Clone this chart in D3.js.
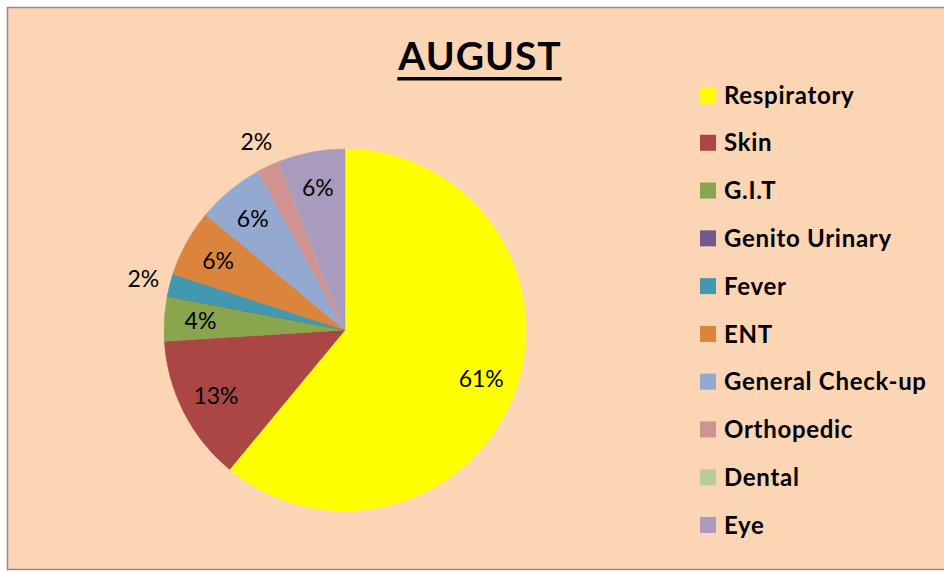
<!DOCTYPE html>
<html>
<head>
<meta charset="utf-8">
<script src="https://cdn.jsdelivr.net/npm/d3@7"></script>
<style>
  body { margin: 0; background: #ffffff; }
  svg { display: block; }
</style>
</head>
<body>
<script>
// Données du graphique
const categories = ['Respiratory', 'Skin', 'G.I.T', 'Genito Urinary', 'Fever', 'ENT', 'General Check-up', 'Orthopedic', 'Dental', 'Eye']
const values = [61, 13, 4, 0, 2, 6, 6, 2, 0, 6]
const colors = ['#ffff00', '#aa4643', '#89a54e', '#71588f', '#4198af', '#db843d', '#93a9cf', '#d19392', '#b9cd96', '#a99bbd']
const title = 'AUGUST'

const width = 944, height = 571

const svg = d3.select('body').append('svg')
    .attr('width', width)
    .attr('height', height)

// Fond + bordure
svg.append('rect')
    .attr('x', 7.5)
    .attr('y', 7.5)
    .attr('width', width + 10)
    .attr('height', 562)
    .attr('fill', '#fcd5b4')
    .attr('stroke', '#8c8c8c')
    .attr('stroke-width', 1.5)

// Titre souligné
const titleText = svg.append('text')
    .attr('x', 480)
    .attr('y', 70)
    .attr('text-anchor', 'middle')
    .style('font-family', 'Lato, sans-serif')
    .style('font-weight', 'bold')
    .style('font-size', '39px')
    .style('letter-spacing', '1px')
    .attr('fill', '#000')
    .text(title)

const tb = titleText.node().getBBox()
svg.append('rect')
    .attr('x', tb.x)
    .attr('y', 77)
    .attr('width', tb.width)
    .attr('height', 3.5)
    .attr('fill', '#000')

// Camembert
const cx = 345, cy = 330, radius = 181
const total = d3.sum(values)
const data = categories.map((c, i) => ({ name: c, value: values[i], color: colors[i] }))

const pie = d3.pie().value(d => d.value).sort(null)
const arc = d3.arc().innerRadius(0).outerRadius(radius)
const arcsIn = pie(data)

const g = svg.append('g').attr('transform', `translate(${cx},${cy})`)

g.selectAll('path')
    .data(arcsIn)
    .join('path')
    .attr('d', arc)
    .attr('fill', d => d.data.color)
    .attr('stroke', d => d.data.color)
    .attr('stroke-width', 0.5)

// Étiquettes (%), dedans pour les grandes parts, dehors pour les petites
const fmt = d3.format('.0%')
const labelArcIn = d3.arc().innerRadius(radius * 0.8).outerRadius(radius * 0.8)
const labelArcOut = d3.arc().innerRadius(radius * 1.15).outerRadius(radius * 1.15)

g.selectAll('text.lbl')
    .data(arcsIn.filter(d => d.data.value > 0))
    .join('text')
    .attr('class', 'lbl')
    .attr('transform', d => {
        const a = d.data.value / total < 0.03 ? labelArcOut : labelArcIn
        const [x, y] = a.centroid(d)
        return `translate(${x},${y})`
    })
    .attr('text-anchor', 'middle')
    .attr('dy', '0.36em')
    .style('font-family', 'Lato, sans-serif')
    .style('font-size', '23px')
    .attr('fill', '#000')
    .text(d => fmt(d.data.value / total))

// Légende
const legend = svg.append('g')
const rowY = d3.scalePoint().domain(categories).range([95, 525])

const rows = legend.selectAll('g')
    .data(data)
    .join('g')
    .attr('transform', d => `translate(700,${rowY(d.name)})`)

rows.append('rect')
    .attr('x', 0)
    .attr('y', -8)
    .attr('width', 16)
    .attr('height', 16)
    .attr('fill', d => d.color)

rows.append('text')
    .attr('x', 24)
    .attr('dy', '0.36em')
    .style('font-family', 'Lato, sans-serif')
    .style('font-weight', 'bold')
    .style('font-size', '24px')
    .style('letter-spacing', '0.7px')
    .attr('fill', '#000')
    .text(d => d.name)
</script>
</body>
</html>
